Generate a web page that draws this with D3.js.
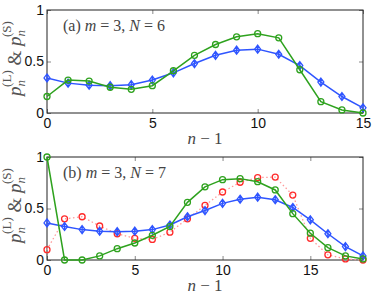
<!DOCTYPE html>
<html>
<head>
<meta charset="utf-8">
<script src="https://cdn.jsdelivr.net/npm/d3@7"></script>
<style>
body { margin: 0; background: #fff; }
svg { display: block; }
.tick text { font-family: "Liberation Sans", Arial, sans-serif; font-size: 14px; fill: #111; }
</style>
</head>
<body>
<svg id="fig" width="374" height="294"></svg>
<script>
// panel (a): m=3, N=6
var xA = d3.range(0, 16);
var blueA = [0.34, 0.29, 0.27, 0.265, 0.275, 0.32, 0.39, 0.48, 0.56, 0.61, 0.62, 0.57, 0.46, 0.30, 0.16, 0.05];
var greenA = [0.16, 0.32, 0.31, 0.25, 0.23, 0.265, 0.41, 0.56, 0.665, 0.74, 0.77, 0.73, 0.42, 0.11, 0.03, 0.0];

// panel (b): m=3, N=7
var xB = d3.range(0, 19);
var blueB = [0.36, 0.325, 0.295, 0.28, 0.275, 0.28, 0.295, 0.34, 0.42, 0.48, 0.55, 0.59, 0.61, 0.585, 0.51, 0.39, 0.255, 0.13, 0.04];
var greenB = [1.0, 0.0, 0.0, 0.04, 0.11, 0.165, 0.24, 0.325, 0.56, 0.71, 0.78, 0.79, 0.76, 0.68, 0.45, 0.26, 0.12, 0.04, 0.01];
var redB = [0.10, 0.40, 0.42, 0.33, 0.255, 0.21, 0.20, 0.27, 0.40, 0.53, 0.66, 0.755, 0.80, 0.805, 0.63, 0.21, 0.05, 0.01, 0.0];

var yTicks = [0, 0.5, 1];
var yTickLabels = ["0", "0.5", "1"];

var BLUE = "#2f55ff", GREEN = "#2ea21e", RED = "#ff2a2a";

var svg = d3.select("#fig");

var panels = [
  {top: 10, bottom: 113, xmax: 15, xticks: [0, 5, 10, 15], label: "a", N: 6,
   series: [{x: xA, y: blueA, c: BLUE, m: "d"}, {x: xA, y: greenA, c: GREEN, m: "o"}]},
  {top: 157, bottom: 260, xmax: 18, xticks: [0, 5, 10, 15], label: "b", N: 7,
   series: [{x: xB, y: redB, c: RED, m: "o", dot: true}, {x: xB, y: blueB, c: BLUE, m: "d"}, {x: xB, y: greenB, c: GREEN, m: "o"}]}
];

var left = 47, right = 363;

panels.forEach(function(p) {
  var x = d3.scaleLinear().domain([0, p.xmax]).range([left, right]);
  var y = d3.scaleLinear().domain([0, 1]).range([p.bottom, p.top]);
  var g = svg.append("g");

  // inward ticks, all four sides
  g.append("g").attr("transform", "translate(0," + p.bottom + ")")
    .call(d3.axisBottom(x).tickValues(p.xticks).tickSize(-4).tickPadding(5))
    .call(function(a){ a.select(".domain").remove(); a.selectAll("line").attr("stroke", "#888"); });
  g.append("g").attr("transform", "translate(0," + p.top + ")")
    .call(d3.axisTop(x).tickValues(p.xticks).tickSize(-4).tickFormat(""))
    .call(function(a){ a.select(".domain").remove(); a.selectAll("line").attr("stroke", "#888"); });
  g.append("g").attr("transform", "translate(" + left + ",0)")
    .call(d3.axisLeft(y).tickValues(yTicks).tickSize(-4).tickPadding(3).tickFormat(function(d, i){ return yTickLabels[i]; }))
    .call(function(a){ a.select(".domain").remove(); a.selectAll("line").attr("stroke", "#888"); });
  g.append("g").attr("transform", "translate(" + right + ",0)")
    .call(d3.axisRight(y).tickValues(yTicks).tickSize(-4).tickFormat(""))
    .call(function(a){ a.select(".domain").remove(); a.selectAll("line").attr("stroke", "#888"); });

  g.append("rect").attr("x", left).attr("y", p.top)
    .attr("width", right - left).attr("height", p.bottom - p.top)
    .attr("fill", "none").attr("stroke", "#222").attr("stroke-width", 1);

  p.series.forEach(function(s) {
    var pts = s.x.map(function(v, i){ return [v, s.y[i]]; });
    var line = d3.line().x(function(d){ return x(d[0]); }).y(function(d){ return y(d[1]); });
    g.append("path").datum(pts).attr("d", line).attr("fill", "none")
      .attr("stroke", s.dot ? "#ff9a9a" : s.c).attr("stroke-width", s.dot ? 1.3 : 1.5)
      .attr("stroke-dasharray", s.dot ? "1.5,2.5" : null);
    if (s.m === "o") {
      g.selectAll(null).data(pts).enter().append("circle")
        .attr("cx", function(d){ return x(d[0]); }).attr("cy", function(d){ return y(d[1]); })
        .attr("r", 3).attr("fill", "none").attr("stroke", s.c).attr("stroke-width", 1.3);
    } else {
      g.selectAll(null).data(pts).enter().append("path")
        .attr("transform", function(d){ return "translate(" + x(d[0]) + "," + y(d[1]) + ")"; })
        .attr("d", "M0,-4L3,0L0,4L-3,0Z M0,-4L0,4")
        .attr("fill", "none").attr("stroke", s.c).attr("stroke-width", 1.3);
    }
  });

  // panel label
  var t = g.append("text").attr("x", 63).attr("y", p.top + 21)
    .attr("font-family", "'Liberation Serif', serif").attr("font-size", 16).attr("fill", "#444");
  t.append("tspan").text("(" + p.label + ") ");
  t.append("tspan").attr("font-style", "italic").text("m");
  t.append("tspan").text(" = 3,  ");
  t.append("tspan").attr("font-style", "italic").text("N");
  t.append("tspan").text(" = " + p.N);

  // x label
  var xl = g.append("text").attr("x", (left + right) / 2).attr("y", p.bottom + 31)
    .attr("text-anchor", "middle").attr("font-family", "'Liberation Serif', serif")
    .attr("font-size", 17).attr("fill", "#444");
  xl.append("tspan").attr("font-style", "italic").text("n");
  xl.append("tspan").text(" \u2212 1");

  // y label
  var cy = (p.top + p.bottom) / 2 - 3;
  var yl = g.append("text").attr("transform", "translate(21," + cy + ") rotate(-90)")
    .attr("text-anchor", "middle").attr("font-family", "'Liberation Serif', serif")
    .attr("font-size", 19).attr("fill", "#555");
  yl.append("tspan").attr("font-style", "italic").text("p");
  yl.append("tspan").attr("font-style", "italic").attr("font-size", 13).attr("dy", 4).text("n");
  yl.append("tspan").attr("font-size", 13).attr("dy", -14).attr("dx", -7).text("(L)");
  yl.append("tspan").attr("dy", 10).text(" & ");
  yl.append("tspan").attr("font-style", "italic").text("p");
  yl.append("tspan").attr("font-style", "italic").attr("font-size", 13).attr("dy", 4).text("n");
  yl.append("tspan").attr("font-size", 13).attr("dy", -14).attr("dx", -7).text("(S)");
});
</script>
</body>
</html>
